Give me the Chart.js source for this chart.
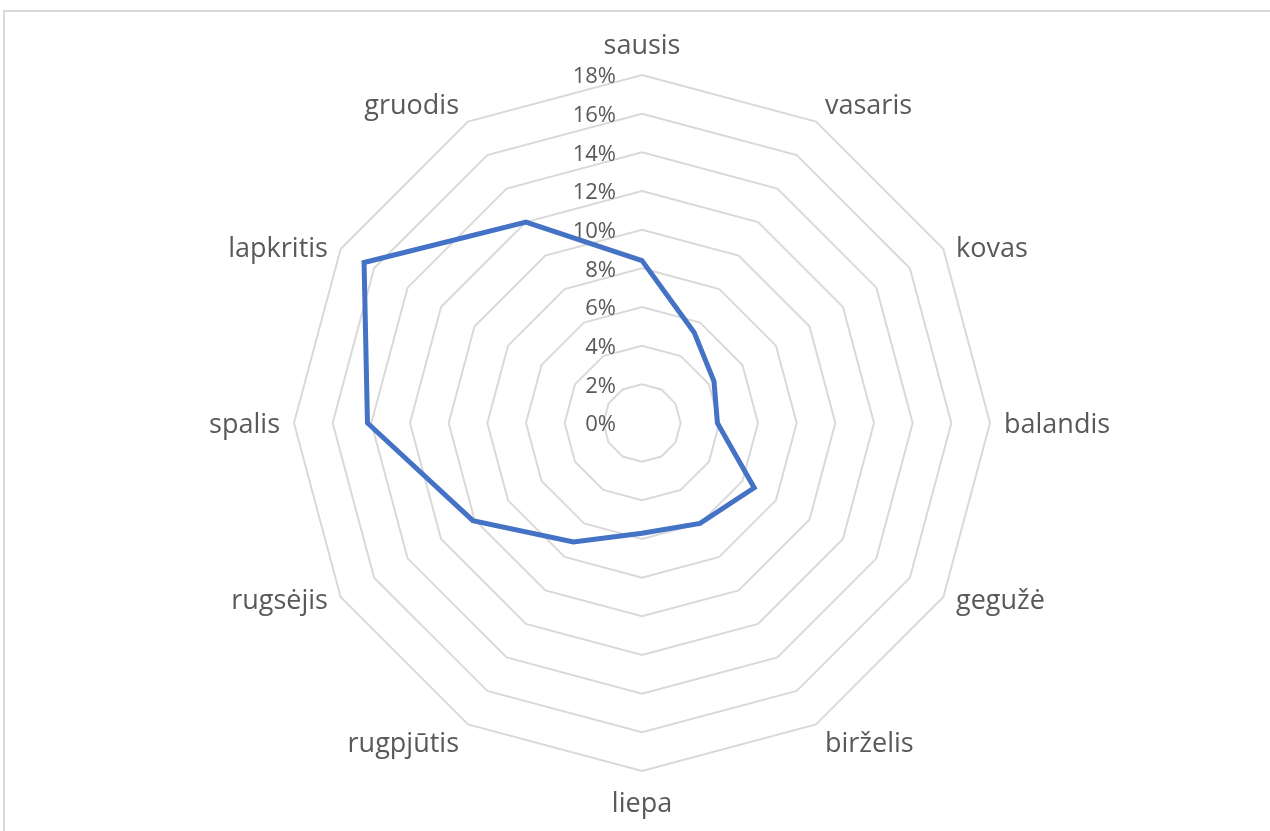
<!DOCTYPE html>
<html>
<head>
<meta charset="utf-8">
<script src="https://cdn.jsdelivr.net/npm/chart.js@4/dist/chart.umd.min.js"></script>
<style>
  html, body { margin: 0; padding: 0; background: #fff; }
  body { width: 1270px; height: 831px; position: relative; overflow: hidden; }
  #frame { position: absolute; left: 3px; top: 10px; width: 1290px; height: 850px;
           border: 2px solid #d9d9d9; box-sizing: border-box; }
  #myChart { position: absolute; left: 0; top: 0; }
</style>
</head>
<body>
<div id="frame"></div>
<canvas id="myChart" width="1270" height="831"></canvas>
<script>
// months (Lithuanian)
const months = ['sausis', 'vasaris', 'kovas', 'balandis', 'gegužė', 'birželis',
                'liepa', 'rugpjūtis', 'rugsėjis', 'spalis', 'lapkritis', 'gruodis'];
// share per month, %
const shares = [8.4, 5.4, 4.3, 3.9, 6.7, 6.0, 5.7, 7.1, 10.1, 14.2, 16.6, 12.0];
// axis
const axisMin = 0;
const axisMax = 18;
const axisStep = 2;

const textGray = '#595959';
const gridGray = '#d9d9d9';

// Excel style tick labels: right aligned, left of the vertical axis
const tickLabels = {
    id: 'tickLabels',
    beforeDatasetsDraw(chart) {
        const r = chart.scales.r;
        const ctx = chart.ctx;
        ctx.save();
        ctx.font = '22px "Open Sans"';
        ctx.fillStyle = textGray;
        ctx.textAlign = 'right';
        ctx.textBaseline = 'middle';
        r.ticks.forEach(t => {
            const d = r.getDistanceFromCenterForValue(t.value);
            ctx.fillText(t.value + '%', r.xCenter - 26, r.yCenter - d + 2);
        });
        ctx.restore();
    }
};

// month labels placed the way Excel does it (next to the outer vertex)
const monthLabels = {
    id: 'monthLabels',
    afterDraw(chart) {
        const r = chart.scales.r;
        const ctx = chart.ctx;
        ctx.save();
        ctx.font = '27px "Open Sans"';
        ctx.fillStyle = textGray;
        ctx.textBaseline = 'alphabetic';
        chart.data.labels.forEach((lab, i) => {
            const a = r.getIndexAngle(i);
            const p = r.getPointPosition(i, r.drawingArea);
            const s = Math.sin(a), c = Math.cos(a);
            let x = p.x;
            if (Math.abs(s) < 0.01) {
                ctx.textAlign = 'center';
            } else {
                const gap = 4 + 10 * Math.abs(s);
                ctx.textAlign = s > 0 ? 'left' : 'right';
                x += s > 0 ? gap : -gap;
            }
            const dy = -31 * Math.sign(c) * Math.pow(c, 4);
            ctx.fillText(lab, x, p.y + dy + 10);
        });
        ctx.restore();
    }
};

new Chart(document.getElementById('myChart'), {
    type: 'radar',
    data: {
        labels: months,
        datasets: [{
            data: shares,
            borderColor: '#4472C4',
            borderWidth: 5,
            fill: false,
            pointRadius: 0,
            pointHoverRadius: 0,
            tension: 0
        }]
    },
    plugins: [tickLabels, monthLabels],
    options: {
        responsive: false,
        animation: false,
        layout: { padding: { left: 14, right: 0, top: 75, bottom: 60 } },
        plugins: {
            legend: { display: false },
            tooltip: { enabled: false }
        },
        scales: {
            r: {
                min: axisMin,
                max: axisMax,
                ticks: { stepSize: axisStep, display: false },
                angleLines: { display: false },
                grid: { color: gridGray, lineWidth: 2, circular: false },
                pointLabels: { display: false }
            }
        }
    }
});
</script>
</body>
</html>
